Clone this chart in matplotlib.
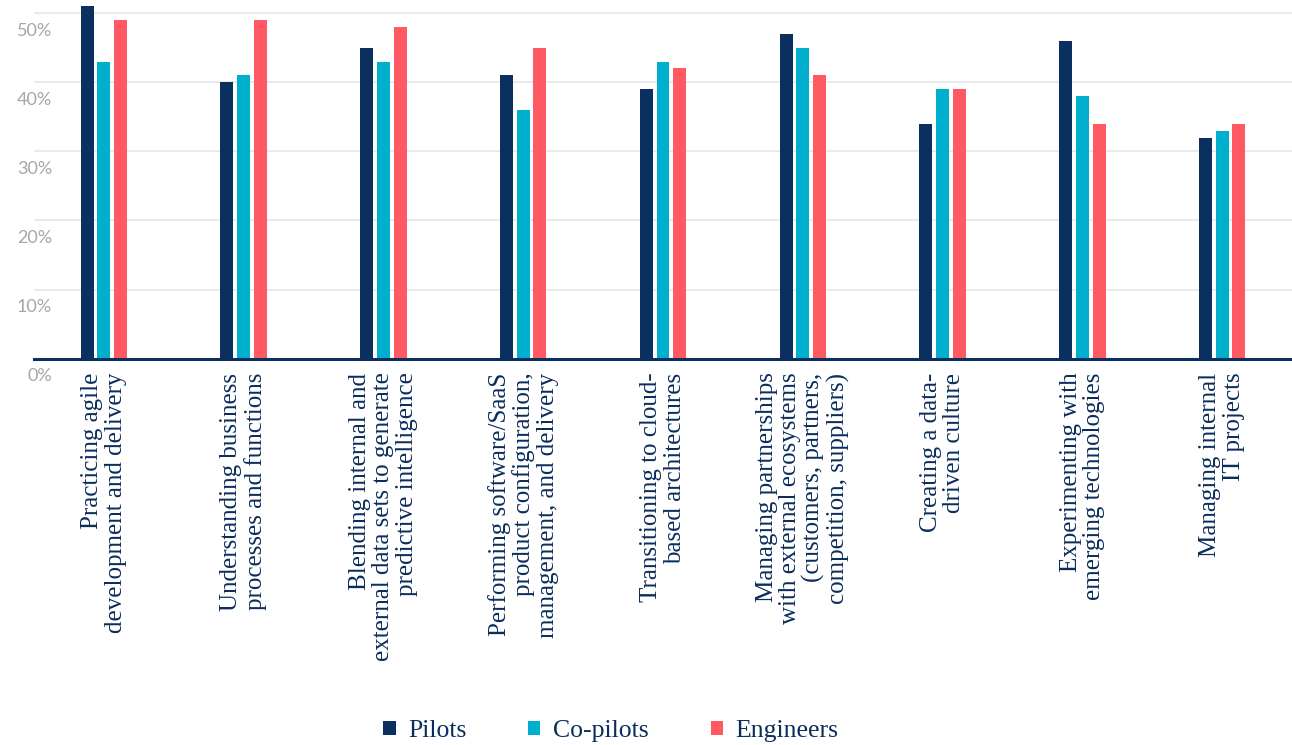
import matplotlib
matplotlib.use("Agg")
import matplotlib.pyplot as plt
import numpy as np

categories = [
    "Practicing agile\ndevelopment and delivery",
    "Understanding business\nprocesses and functions",
    "Blending internal and\nexternal data sets to generate\npredictive intelligence",
    "Performing software/SaaS\nproduct configuration,\nmanagement, and delivery",
    "Transitioning to cloud-\nbased architectures",
    "Managing partnerships\nwith external ecosystems\n(customers, partners,\ncompetition, suppliers)",
    "Creating a data-\ndriven culture",
    "Experimenting with\nemerging technologies",
    "Managing internal\nIT projects",
]
pilots = [51, 40, 45, 41, 39, 47, 34, 46, 32]
copilots = [43, 41, 43, 36, 43, 45, 39, 38, 33]
engineers = [49, 49, 48, 45, 42, 41, 39, 34, 34]
series_names = ["Pilots", "Co-pilots", "Engineers"]
yticks = [0, 10, 20, 30, 40, 50]

navy = "#0B3060"
colors = [navy, "#00AECE", "#FF5964"]
text_color = "#0B2D5C"
serif = "Liberation Serif"

fig = plt.figure(figsize=(12.92, 7.45), dpi=100)
ax = fig.add_axes([34 / 1292, 1 - 358.7 / 745, 1 - 34 / 1292, 358.7 / 745])

x = np.arange(len(categories))
w = 0.093
for i, (vals, name) in enumerate(zip([pilots, copilots, engineers], series_names)):
    ax.bar(x + (i - 1) * 0.12, vals, width=w, color=colors[i], label=name, zorder=3)

ax.set_xlim(-0.5, len(categories) - 0.5)
ax.set_ylim(0, 51.9)

# grid + y labels sitting under each line
ax.set_yticks(yticks)
ax.yaxis.grid(True, color="#e6e6e6", linewidth=1.2, zorder=0)
ax.set_yticklabels([])
ax.tick_params(axis="y", length=0)
for v in yticks:
    ax.annotate(f"{v}%", xy=(0, v), xycoords=("axes fraction", "data"),
                xytext=(13, -7), textcoords="offset points", ha="right", va="top",
                fontsize=13, color="#a6a6a6", family="Lato",
                annotation_clip=False)

for s in ["top", "right", "left"]:
    ax.spines[s].set_visible(False)
ax.spines["bottom"].set_color(navy)
ax.spines["bottom"].set_linewidth(2.2)
ax.spines["bottom"].set_zorder(4)

ax.set_xticks(x)
ax.set_xticklabels(categories, rotation=90, va="top", ha="center",
                   multialignment="right", family=serif, fontsize=18,
                   color=text_color, linespacing=1.08)
ax.tick_params(axis="x", length=0, pad=10)

leg = fig.legend(loc="center", bbox_to_anchor=(611 / 1292, 1 - 731 / 745),
                 ncol=3, frameon=False, prop={"family": serif, "size": 18.5},
                 handlelength=0.47, handleheight=0.47, handletextpad=0.5,
                 columnspacing=2.4, borderpad=0)
for t in leg.get_texts():
    t.set_color(text_color)

fig.savefig("out.png", dpi=100)
